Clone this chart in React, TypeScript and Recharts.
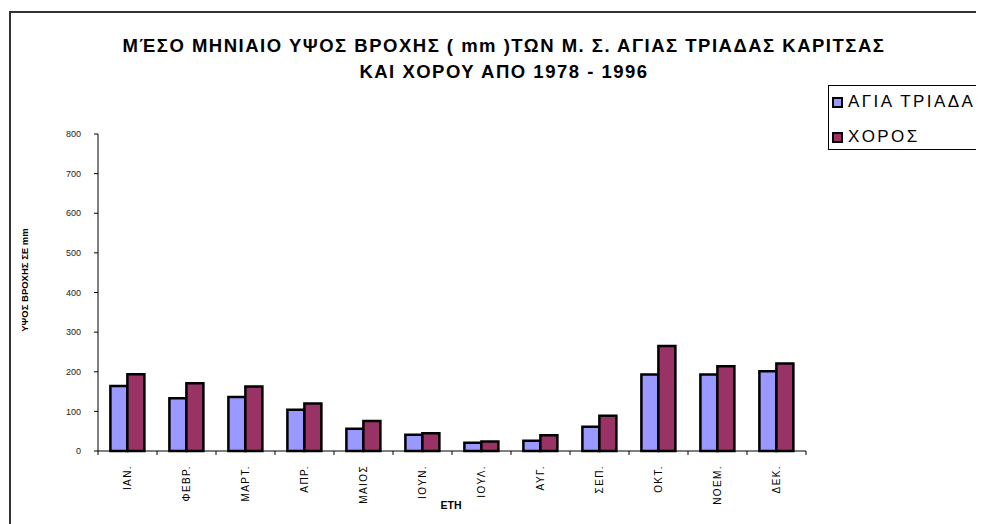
import React from 'react';
import { BarChart, Bar, XAxis, YAxis } from 'recharts';

const months = ['ΙΑΝ.', 'ΦΕΒΡ.', 'ΜΑΡΤ.', 'ΑΠΡ.', 'ΜΑΙΟΣ', 'ΙΟΥΝ.', 'ΙΟΥΛ.', 'ΑΥΓ.', 'ΣΕΠ.', 'ΟΚΤ.', 'ΝΟΕΜ.', 'ΔΕΚ.'];
const agiaTriada = [164, 133, 136, 104, 56, 41, 21, 26, 61, 193, 193, 201];
const choros = [194, 171, 163, 120, 76, 45, 24, 40, 89, 265, 214, 221];
const yTicks = [0, 100, 200, 300, 400, 500, 600, 700, 800];
const seriesNames = ['ΑΓΙΑ ΤΡΙΑΔΑ', 'ΧΟΡΟΣ'];
const titleLines = ['ΜΈΣΟ ΜΗΝΙΑΙΟ ΥΨΟΣ ΒΡΟΧΗΣ ( mm )ΤΩΝ Μ. Σ. ΑΓΙΑΣ ΤΡΙΑΔΑΣ ΚΑΡΙΤΣΑΣ', 'ΚΑΙ ΧΟΡΟΥ ΑΠΟ 1978 - 1996'];
const yLabel = 'ΥΨΟΣ ΒΡΟΧΗΣ ΣΕ mm';
const xLabel = 'ΕΤΗ';

const data = months.map((m, i) => ({ month: m, a: agiaTriada[i], b: choros[i] }));

const FONT = '"Liberation Sans", Arial, sans-serif';
const BLUE = '#9999FF';
const RED = '#993366';

const XTick = (props: any) => {
  const { x, y, payload, index } = props;
  const off = payload.offset || 0;
  const last = index === months.length - 1;
  return (
    <g>
      <line x1={x - off} x2={x - off} y1={y} y2={y + 4} stroke="#000" strokeWidth={1} />
      {last && <line x1={x + off} x2={x + off} y1={y} y2={y + 4} stroke="#000" strokeWidth={1} />}
      <text
        x={x}
        y={y + 14}
        transform={`rotate(-90, ${x}, ${y + 14})`}
        textAnchor="end"
        dominantBaseline="central"
        fontFamily={FONT}
        fontSize={10}
        letterSpacing={1.4}
        fill="#000"
      >
        {payload.value}
      </text>
    </g>
  );
};

const LegendBox = () => (
  <div
    style={{
      position: 'absolute',
      left: 820,
      top: 77,
      border: '1px solid #000',
      borderRight: 'none',
      background: '#fff',
      width: 170,
      height: 65,
      boxSizing: 'border-box',
      fontFamily: FONT,
      fontSize: 17,
      letterSpacing: 2.4,
      color: '#000',
    }}
  >
    {seriesNames.map((n, i) => (
      <div
        key={n}
        style={{ position: 'absolute', left: 0, top: i === 0 ? 8 : 43, height: 16, display: 'flex', alignItems: 'center', whiteSpace: 'nowrap' }}
      >
        <span
          style={{
            display: 'inline-block',
            width: 7,
            height: 7,
            border: '2px solid #000',
            background: i === 0 ? BLUE : RED,
            marginLeft: 3,
            marginRight: 5,
          }}
        />
        <span>{n}</span>
      </div>
    ))}
  </div>
);

export default function App() {
  return (
    <div style={{ position: 'relative', width: 976, height: 516, overflow: 'hidden', background: '#fff' }}>
      <div
        style={{
          position: 'absolute',
          left: 1,
          top: 3,
          width: 1200,
          height: 800,
          border: '2px solid #333',
          boxSizing: 'border-box',
        }}
      />
      <div
        style={{
          position: 'absolute',
          left: 0,
          width: 992,
          top: 25,
          textAlign: 'center',
          fontFamily: FONT,
          fontWeight: 'bold',
          fontSize: 18.5,
          letterSpacing: 1.5,
          lineHeight: '26px',
          color: '#000',
        }}
      >
        {titleLines.map((t) => (
          <div key={t}>{t}</div>
        ))}
      </div>
      <div style={{ position: 'absolute', left: 16, top: 272, width: 0, height: 0 }}>
        <div
          style={{
            position: 'absolute',
            transform: 'translate(-50%, -50%) rotate(-90deg)',
            whiteSpace: 'nowrap',
            fontFamily: FONT,
            fontWeight: 'bold',
            fontSize: 9.5,
            color: '#000',
          }}
        >
          {yLabel}
        </div>
      </div>
      <div style={{ position: 'absolute', left: 443, top: 497, width: 0, height: 0 }}>
        <div
          style={{
            position: 'absolute',
            transform: 'translate(-50%, -50%)',
            whiteSpace: 'nowrap',
            fontFamily: FONT,
            fontWeight: 'bold',
            fontSize: 10.5,
            color: '#000',
          }}
        >
          {xLabel}
        </div>
      </div>
      <LegendBox />
      <div style={{ position: 'absolute', left: 0, top: 0 }}>
        <BarChart
          width={976}
          height={516}
          data={data}
          margin={{ top: 126, right: 178, bottom: 13, left: 0 }}
          barCategoryGap="21%"
          barGap={0}
        >
          <XAxis
            dataKey="month"
            height={60}
            tickLine={false}
            tickSize={0}
            tickMargin={0}
            axisLine={{ stroke: '#000', strokeWidth: 1 }}
            tick={<XTick />}
            interval={0}
          />
          <YAxis
            width={90}
            domain={[0, 800]}
            ticks={yTicks}
            interval={0}
            tickSize={4}
            tickMargin={13}
            axisLine={{ stroke: '#000', strokeWidth: 1 }}
            tickLine={{ stroke: '#000' }}
            tick={{ fontFamily: FONT, fontSize: 9, fill: '#222' }}
          />
          <Bar dataKey="a" name={seriesNames[0]} fill={BLUE} stroke="#000" strokeWidth={2.5} isAnimationActive={false} />
          <Bar dataKey="b" name={seriesNames[1]} fill={RED} stroke="#000" strokeWidth={2.5} isAnimationActive={false} />
        </BarChart>
      </div>
    </div>
  );
}
